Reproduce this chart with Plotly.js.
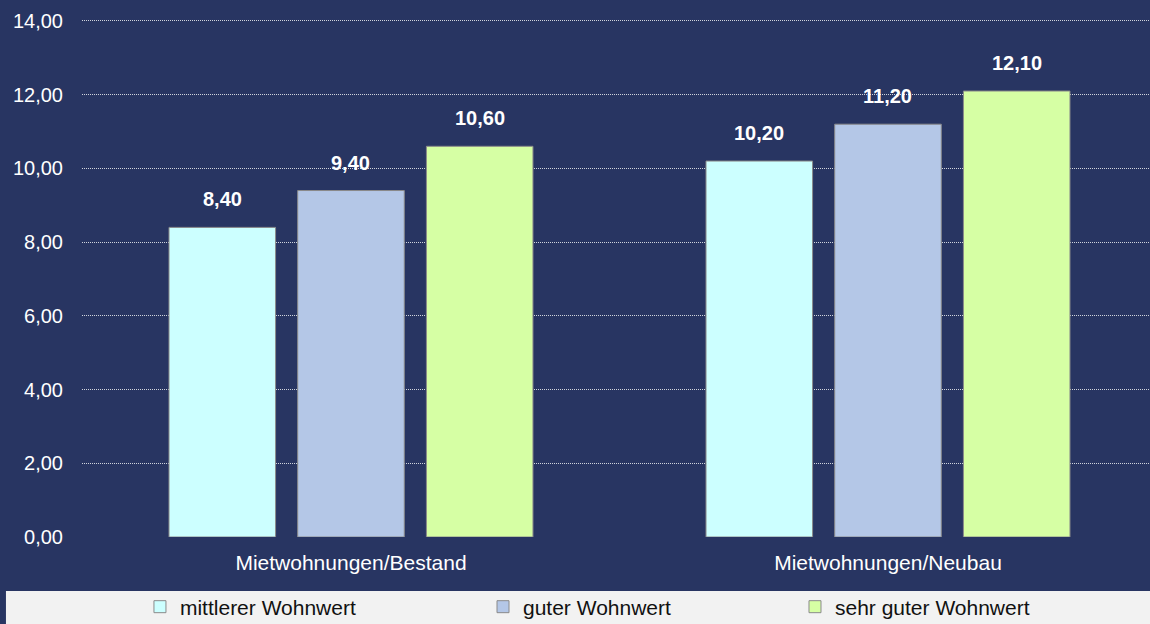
<!DOCTYPE html>
<html>
<head>
<meta charset="utf-8">
<script src="https://cdn.plot.ly/plotly-3.0.1.min.js"></script>
<style>html,body{margin:0;padding:0;background:#283562;}#chart{width:1150px;height:624px;}</style>
</head>
<body>
<div id="chart"></div>
<script>
const categories = ["Mietwohnungen/Bestand", "Mietwohnungen/Neubau"];
const seriesNames = ["mittlerer Wohnwert", "guter Wohnwert", "sehr guter Wohnwert"];
const mittlerer = [8.40, 10.20];
const guter = [9.40, 11.20];
const sehrGuter = [10.60, 12.10];
const yTicks = [0, 2, 4, 6, 8, 10, 12, 14];

const colors = ["#CCFFFF", "#B4C7E7", "#D6FFA4"];
const values = [mittlerer, guter, sehrGuter];
const legendIds = ["legend", "legend2", "legend3"];
const legendX = [0.1217, 0.4200, 0.6913];
const fmt = v => v.toFixed(2).replace(".", ",");
const FONT = "Liberation Sans, Arial, sans-serif";
const BARGAP = 0.281;
const BARGROUPGAP = 0.172;

const traces = values.map((vals, i) => ({
  type: "bar",
  x: categories,
  y: vals,
  name: seriesNames[i],
  legend: legendIds[i],
  showlegend: true,
  marker: {color: colors[i], line: {color: "#8a8a8a", width: 1}},
  hoverinfo: "skip"
}));

// value labels placed over each bar (offset derived from the group layout)
const slot = (1 - BARGAP) / values.length;
const annotations = [];
values.forEach((vals, k) => {
  vals.forEach((v, ci) => {
    annotations.push({
      xref: "x", yref: "y",
      x: ci + (k - (values.length - 1) / 2) * slot,
      y: v,
      text: fmt(v),
      showarrow: false,
      yanchor: "middle",
      yshift: 28,
      font: {family: FONT, size: 20, color: "#ffffff", weight: "bold"}
    });
  });
});

const layout = {
  width: 1150,
  height: 624,
  showlegend: true,
  paper_bgcolor: "#283562",
  plot_bgcolor: "#283562",
  margin: {l: 82, r: 0, t: 3, b: 87},
  barmode: "group",
  bargap: BARGAP,
  bargroupgap: BARGROUPGAP,
  separators: ",.",
  font: {family: FONT, size: 20, color: "#ffffff"},
  xaxis: {
    type: "category",
    range: [-0.5009, 1.4879],
    showgrid: false,
    showline: false,
    zeroline: false,
    ticks: "",
    ticklabelstandoff: 11,
    tickfont: {size: 21, color: "#ffffff"}
  },
  yaxis: {
    range: [0, 14.488],
    tickvals: yTicks,
    ticktext: yTicks.map(fmt),
    showgrid: true,
    gridcolor: "#d0d4dc",
    griddash: "1px,1px",
    gridwidth: 1,
    zeroline: false,
    showline: false,
    ticks: "",
    ticklabelstandoff: 18,
    tickfont: {size: 20, color: "#ffffff"}
  },
  annotations: annotations,
  shapes: [{
    type: "rect", xref: "paper", yref: "paper",
    x0: -0.0712, x1: 1.0, y0: -0.1011, y1: -0.1632,
    fillcolor: "#f2f2f2", line: {width: 0}, layer: "below"
  }]
};

legendIds.forEach((id, i) => {
  layout[id] = {
    orientation: "h",
    xref: "container", yref: "container",
    xanchor: "left", yanchor: "middle",
    x: legendX[i], y: 0.0272,
    bgcolor: "rgba(0,0,0,0)",
    borderwidth: 0,
    font: {family: FONT, size: 21, color: "#111111"}
  };
});

Plotly.newPlot("chart", traces, layout, {displayModeBar: false, staticPlot: true});
</script>
</body>
</html>
